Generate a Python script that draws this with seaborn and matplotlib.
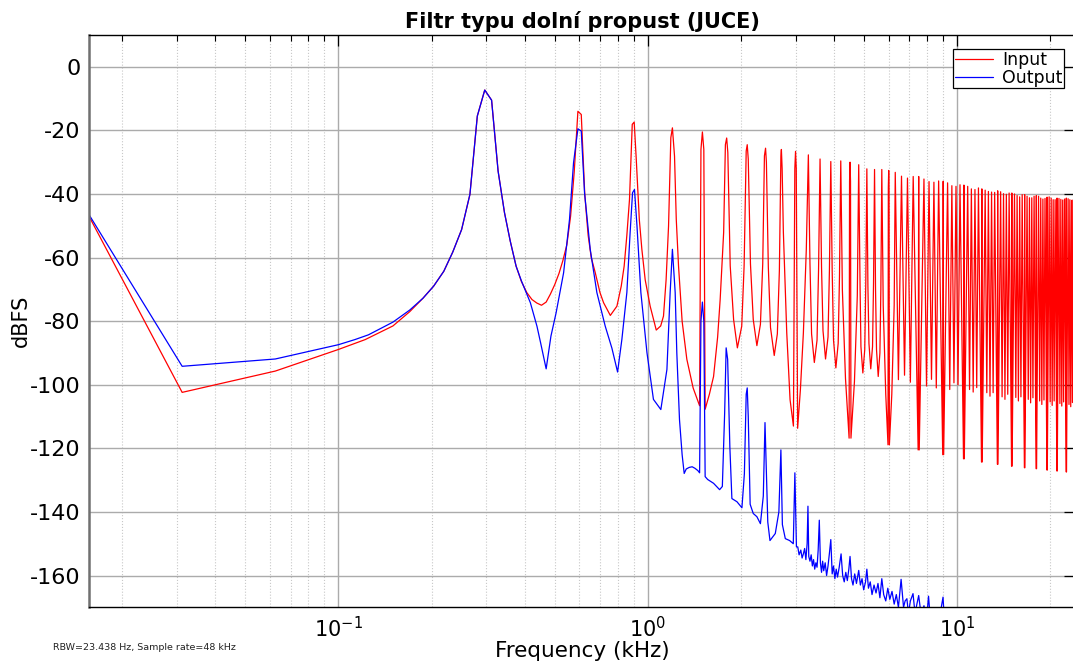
import matplotlib
matplotlib.use('Agg')
import matplotlib.pyplot as plt
import seaborn as sns
import pandas as pd
from matplotlib import ticker

# Spektrum vstupu (pila 300 Hz) - body
input_khz = [
    0.015625, 0.03125, 0.0625, 0.1, 0.122, 0.15, 0.17, 0.1875, 0.203, 0.219, 0.234, 0.25,
    0.266, 0.281, 0.297, 0.3125, 0.328, 0.344, 0.359, 0.375, 0.39, 0.406, 0.422, 0.4375,
    0.453, 0.469, 0.484, 0.5, 0.516, 0.531, 0.547, 0.5625, 0.578, 0.594, 0.609, 0.625,
    0.641, 0.656, 0.676, 0.7, 0.719, 0.756, 0.794, 0.82, 0.838, 0.855, 0.872, 0.89,
    0.903, 0.917, 0.938, 0.956, 0.98, 1.017, 1.064, 1.1, 1.123, 1.145, 1.166, 1.186,
    1.2, 1.219, 1.235, 1.256, 1.29, 1.336, 1.4, 1.469, 1.484, 1.5, 1.516, 1.531,
    1.58, 1.63, 1.68, 1.712, 1.757, 1.78, 1.797, 1.8125, 1.845, 1.892, 1.946, 2.01,
    2.046, 2.078, 2.094, 2.11, 2.145, 2.19, 2.25, 2.31, 2.35, 2.38, 2.40, 2.415,
    2.45, 2.49, 2.56, 2.62, 2.66, 2.69, 2.70, 2.715, 2.74, 2.81, 2.88, 2.953,
    2.984, 3.0, 3.016, 3.047, 3.11, 3.18, 3.25, 3.3, 3.34, 3.38, 3.45, 3.52,
    3.56, 3.6, 3.64, 3.68, 3.75, 3.82, 3.86, 3.9, 3.94, 3.98, 4.05, 4.12,
    4.16, 4.2, 4.25, 4.35, 4.469, 4.484, 4.5, 4.516, 4.531, 4.65, 4.75, 4.8,
    4.85, 4.88, 4.95, 5.02, 5.06, 5.1, 5.14, 5.18, 5.25, 5.32, 5.36, 5.4,
    5.44, 5.48, 5.55, 5.62, 5.66, 5.7, 5.76, 5.87, 5.969, 5.984, 6.0, 6.016,
    6.031, 6.14, 6.25, 6.3, 6.45, 6.6, 6.75, 6.9, 7.05, 7.2, 7.469, 7.5,
    7.531, 7.8, 7.95, 8.1, 8.25, 8.4, 8.55, 8.7, 8.969, 9.0, 9.031, 9.3,
    9.45, 9.6, 9.75, 9.9, 10.05, 10.2, 10.469, 10.5, 10.531, 10.8, 10.95, 11.1,
    11.25, 11.4, 11.55, 11.7, 11.969, 12.0, 12.031, 12.3, 12.45, 12.6, 12.75, 12.9,
    13.05, 13.2, 13.469, 13.5, 13.531, 13.8, 13.95, 14.1, 14.25, 14.4, 14.55, 14.7,
    14.969, 15.0, 15.031, 15.3, 15.45, 15.6, 15.75, 15.9, 16.05, 16.2, 16.469, 16.5,
    16.531, 16.8, 16.95, 17.1, 17.25, 17.4, 17.55, 17.7, 17.969, 18.0, 18.031, 18.3,
    18.45, 18.6, 18.75, 18.9, 19.05, 19.2, 19.469, 19.5, 19.531, 19.8, 19.95, 20.1,
    20.25, 20.4, 20.55, 20.7, 20.969, 21.0, 21.031, 21.3, 21.45, 21.6, 21.75, 21.9,
    22.05, 22.2, 22.469, 22.5, 22.531, 22.8, 22.95, 23.1, 23.25, 23.4, 23.55, 23.7,
    23.969, 24.0,
]
input_db = [
    -47.0, -102.4, -95.7, -88.9, -85.8, -81.5, -77.0, -72.8, -69.0, -64.3, -58.3, -51.2,
    -40.1, -15.5, -7.3, -10.5, -32.8, -45.9, -54.8, -62.7, -67.5, -71.0, -73.2, -74.3,
    -75.0, -74.0, -71.5, -68.5, -65.0, -61.0, -56.0, -47.0, -33.0, -14.0, -15.0, -40.0,
    -53.0, -60.0, -64.8, -71.0, -74.2, -78.2, -75.3, -69.0, -62.7, -53.0, -41.7, -18.1,
    -17.4, -29.1, -48.0, -57.4, -67.0, -75.3, -82.8, -81.5, -78.4, -67.0, -50.1, -22.3,
    -19.2, -28.1, -48.0, -62.7, -80.0, -92.0, -101.0, -106.6, -26.0, -20.5, -26.0, -107.7,
    -103.0, -97.4, -85.0, -73.2, -52.1, -24.5, -22.4, -27.0, -62.6, -79.5, -88.4, -81.6,
    -62.6, -26.5, -24.5, -29.0, -62.0, -79.5, -87.7, -81.0, -62.0, -28.0, -25.6, -30.0,
    -63.0, -82.0, -90.8, -84.0, -64.0, -28.0, -26.0, -32.0, -52.0, -83.7, -104.7, -113.0,
    -32.0, -26.6, -32.0, -113.7, -101.6, -83.7, -57.4, -27.7, -62.0, -84.0, -93.0, -86.0,
    -64.0, -29.0, -63.0, -83.0, -91.9, -85.0, -64.0, -29.8, -64.0, -86.0, -94.7, -87.0,
    -66.0, -29.6, -70.0, -98.0, -116.8, -36.0, -30.0, -36.0, -116.8, -99.0, -72.0, -30.8,
    -70.0, -88.0, -96.3, -89.0, -68.0, -32.1, -69.0, -87.0, -95.0, -88.0, -68.0, -32.3,
    -70.0, -89.0, -97.4, -90.0, -70.0, -32.3, -75.0, -103.0, -118.9, -38.0, -32.6, -38.0,
    -118.9, -103.0, -75.0, -33.2, -98.4, -34.4, -97.0, -35.0, -99.2, -34.5, -120.5, -34.5,
    -120.5, -35.3, -100.4, -36.1, -98.3, -36.3, -101.0, -35.9, -122.0, -36.0, -122.0, -36.5,
    -101.5, -37.4, -99.4, -37.6, -100.0, -37.1, -123.3, -37.2, -123.3, -37.6, -101.5, -38.4,
    -102.3, -38.6, -100.9, -38.1, -124.3, -38.4, -124.3, -38.8, -102.5, -39.2, -103.6, -39.4,
    -102.5, -39.5, -125.0, -39.0, -125.0, -39.3, -103.8, -39.9, -104.6, -40.1, -103.0, -39.7,
    -125.6, -39.7, -125.6, -40.0, -104.0, -40.5, -105.1, -40.9, -103.8, -40.2, -126.1, -40.2,
    -126.1, -40.7, -104.6, -41.2, -105.7, -41.2, -104.1, -40.7, -126.4, -40.5, -126.4, -40.7,
    -105.1, -41.3, -106.2, -41.6, -104.8, -41.4, -126.8, -41.0, -126.8, -40.9, -105.4, -41.3,
    -106.5, -41.8, -105.1, -41.8, -127.1, -41.3, -127.1, -41.4, -105.9, -41.7, -106.7, -41.9,
    -105.4, -41.6, -127.4, -41.3, -127.4, -41.5, -106.2, -41.8, -106.9, -42.0, -105.6, -41.8,
    -127.6, -41.5,
]

# Výstup filtru (dolní propust)
output_khz = [
    0.015625, 0.03125, 0.0625, 0.1, 0.113, 0.125, 0.15, 0.17, 0.1875, 0.203, 0.219, 0.234,
    0.25, 0.266, 0.281, 0.297, 0.3125, 0.328, 0.344, 0.359, 0.375, 0.39, 0.417, 0.438,
    0.45, 0.469, 0.486, 0.505, 0.534, 0.558, 0.575, 0.594, 0.609, 0.624, 0.651, 0.684,
    0.728, 0.765, 0.798, 0.824, 0.855, 0.876, 0.892, 0.905, 0.922, 0.949, 0.993, 1.042,
    1.101, 1.152, 1.18, 1.2, 1.225, 1.24, 1.265, 1.29, 1.31, 1.33, 1.36, 1.39,
    1.42, 1.45, 1.469, 1.484, 1.5, 1.516, 1.531, 1.56, 1.63, 1.705, 1.74, 1.77,
    1.79, 1.81, 1.84, 1.868, 1.94, 2.013, 2.05, 2.078, 2.094, 2.11, 2.14, 2.19,
    2.25, 2.31, 2.36, 2.39, 2.41, 2.44, 2.48, 2.58, 2.65, 2.69, 2.72, 2.78,
    2.87, 2.95, 2.985, 3.02, 3.05, 3.08, 3.12, 3.15, 3.18, 3.21, 3.24, 3.27,
    3.29, 3.31, 3.34, 3.37, 3.40, 3.43, 3.46, 3.49, 3.52, 3.55, 3.58, 3.61,
    3.64, 3.67, 3.70, 3.74, 3.78, 3.82, 3.86, 3.90, 3.94, 3.98, 4.02, 4.06,
    4.10, 4.15, 4.21, 4.26, 4.31, 4.36, 4.41, 4.46, 4.5, 4.55, 4.6, 4.66,
    4.72, 4.8, 4.86, 4.92, 4.98, 5.05, 5.1, 5.16, 5.23, 5.3, 5.38, 5.46,
    5.54, 5.62, 5.7, 5.78, 5.87, 5.96, 6.05, 6.15, 6.25, 6.35, 6.45, 6.58,
    6.7, 6.78, 6.87, 6.95, 7.05, 7.19, 7.3, 7.4, 7.5, 7.65, 7.8, 7.95,
    8.07, 8.2, 8.4, 8.6, 8.8, 8.99, 9.1, 9.4, 10.0, 24.0,
]
output_db = [
    -46.5, -94.2, -91.9, -87.4, -85.8, -84.3, -80.3, -76.5, -72.8, -69.0, -64.3, -58.3,
    -51.2, -40.1, -15.5, -7.3, -10.5, -32.8, -45.9, -54.8, -62.7, -67.3, -74.2, -81.6,
    -86.8, -95.0, -84.7, -77.4, -64.8, -48.0, -30.2, -19.5, -20.2, -39.6, -57.4, -71.0,
    -81.6, -88.5, -96.0, -85.7, -71.0, -52.2, -39.6, -38.6, -50.1, -71.0, -89.9, -104.6,
    -107.8, -95.2, -71.0, -57.4, -71.0, -90.0, -111.0, -122.0, -127.9, -126.5, -126.0, -125.8,
    -126.3, -127.0, -127.7, -80.0, -74.0, -80.0, -128.9, -129.8, -131.0, -133.0, -132.0, -109.0,
    -88.4, -92.0, -119.5, -135.8, -136.8, -138.7, -128.0, -103.0, -101.0, -110.0, -137.6, -140.5,
    -141.5, -143.7, -135.0, -111.9, -125.0, -143.2, -149.0, -146.8, -140.0, -120.5, -144.0, -148.4,
    -149.0, -150.0, -127.7, -151.0, -151.0, -153.5, -152.0, -154.5, -153.2, -151.5, -155.0, -150.0,
    -138.2, -154.0, -155.5, -153.5, -157.0, -155.0, -158.0, -156.0, -157.4, -152.0, -142.6, -156.0,
    -159.0, -155.5, -158.5, -156.0, -160.0, -157.0, -153.0, -148.7, -159.5, -157.0, -161.0, -158.0,
    -160.5, -157.5, -153.2, -160.0, -162.0, -159.0, -161.6, -158.0, -154.0, -161.0, -163.0, -159.5,
    -162.5, -158.4, -163.0, -161.0, -164.5, -162.0, -158.0, -164.0, -162.0, -166.0, -163.0, -165.5,
    -162.5, -167.0, -161.0, -166.0, -168.0, -164.0, -167.5, -165.0, -169.0, -166.0, -170.0, -161.2,
    -170.0, -168.0, -167.3, -172.0, -168.0, -165.7, -172.0, -169.0, -166.3, -173.0, -169.5, -174.0,
    -166.5, -175.0, -171.0, -176.0, -172.0, -166.8, -176.0, -178.0, -180.0, -185.0,
]

series_names = ['Input', 'Output']
series_colors = ['#ff0000', '#0000ff']

df = pd.concat([
    pd.DataFrame({'freq': input_khz, 'level': input_db, 'signal': series_names[0]}),
    pd.DataFrame({'freq': output_khz, 'level': output_db, 'signal': series_names[1]}),
], ignore_index=True)

sns.set_style('white')
plt.rcParams['font.family'] = ['DejaVu Sans']
plt.rcParams['axes.unicode_minus'] = False
plt.rcParams['text.color'] = 'black'
plt.rcParams['axes.labelcolor'] = 'black'
plt.rcParams['xtick.color'] = 'black'
plt.rcParams['ytick.color'] = 'black'

fig = plt.figure(figsize=(10.73, 6.63), dpi=100)
ax = fig.add_axes([89 / 1073, 1 - 607.3 / 663, 986 / 1073, 572.3 / 663])

sns.lineplot(data=df, x='freq', y='level', hue='signal', palette=dict(zip(series_names, series_colors)),
             estimator=None, sort=False, lw=0.9, ax=ax)

ax.set_xscale('log')
ax.set_xlim(0.015625, 24)
ax.set_ylim(-170, 10)
ax.set_yticks(range(-160, 1, 20))
ax.xaxis.set_minor_locator(ticker.LogLocator(base=10, subs=range(2, 10)))
ax.xaxis.set_minor_formatter(ticker.NullFormatter())

ax.grid(True, which='major', axis='both', color='#ababab', lw=1.0, ls='-')
ax.grid(True, which='minor', axis='x', color='#c8c8c8', lw=0.8, ls=':')

ax.tick_params(which='both', direction='in', top=True, right=True, color='black')
ax.tick_params(which='major', length=8, width=0.9)
ax.tick_params(which='minor', length=4, width=0.8)
ax.tick_params(axis='y', labelsize=16, pad=6)
ax.tick_params(axis='x', labelsize=15, pad=6)

for side in ['top', 'bottom', 'right']:
    ax.spines[side].set_color('black')
    ax.spines[side].set_linewidth(1.0)
ax.spines['left'].set_color('#707070')
ax.spines['left'].set_linewidth(1.8)

ax.set_title('Filtr typu dolní propust (JUCE)', fontsize=15, fontweight='bold', pad=5)
ax.set_xlabel('Frequency (kHz)', fontsize=15.5, labelpad=0)
ax.set_ylabel('dBFS', fontsize=15)
ax.yaxis.set_label_coords(-0.059, 0.5)

handles, labels = ax.get_legend_handles_labels()
leg = ax.legend(handles, labels, loc='upper right', bbox_to_anchor=(0.9888, 0.9755), borderaxespad=0,
                fontsize=12.5, frameon=True, fancybox=False, framealpha=1, edgecolor='black',
                borderpad=0.1, labelspacing=0.0, handlelength=2.2, handletextpad=0.5)
leg.get_frame().set_linewidth(0.9)

fig.text(53 / 1073, 1 - 650 / 663, 'RBW=23.438 Hz, Sample rate=48 kHz', fontsize=6.8, color='#222222')

fig.savefig('out.png', dpi=100)
